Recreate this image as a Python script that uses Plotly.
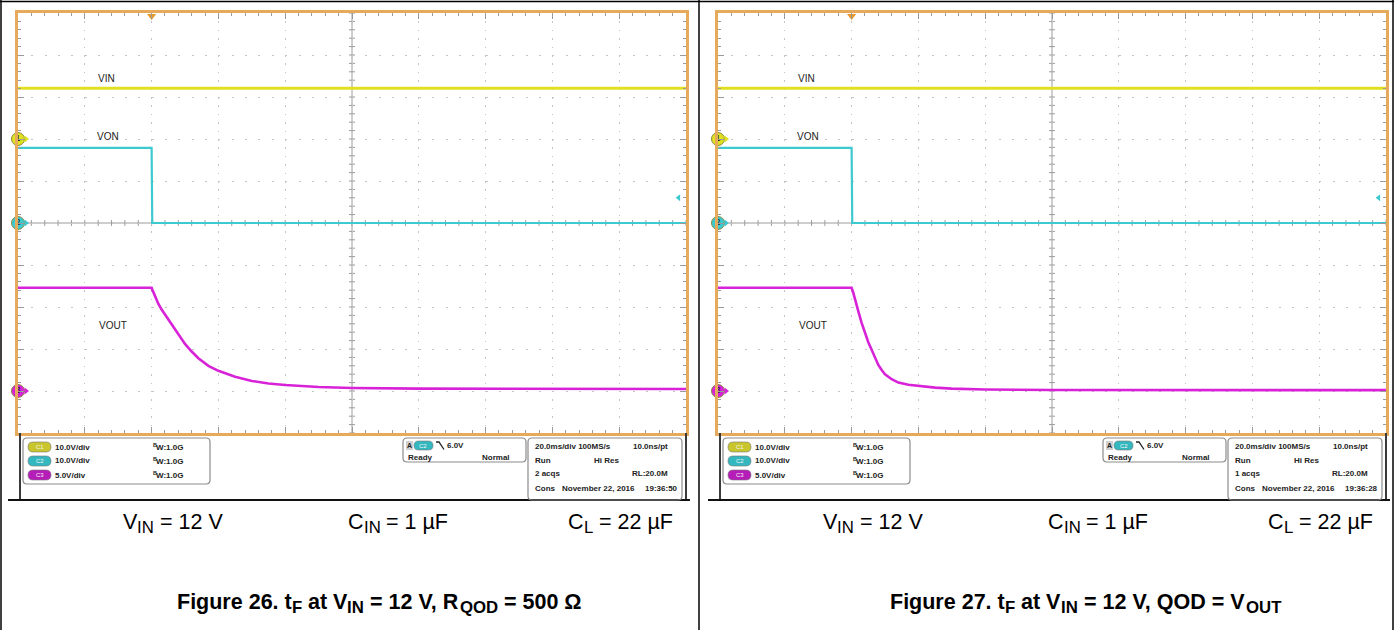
import plotly.graph_objects as go

W, H = 1394, 630

# ---------------- data ----------------
ch_names = ["VIN", "VON", "VOUT"]
ch_scale = [10.0, 10.0, 5.0]          # V/div
ch_offset = [2.0, 0.0, -4.0]          # div (ground marker position)
time_per_div = 20.0                    # ms/div

vin_t = [-40, 160]
vin_v = [12.1, 12.1]

von_t = [-40, 0, 0.2, 160]
von_v = [17.9, 17.9, 0.0, 0.0]

vout26_t = [-40, 0, 0.5, 1, 2, 3, 4, 5, 6, 8, 10, 12, 14, 17, 20, 25, 30, 35, 40, 50, 60, 80, 100, 130, 160]
vout26_v = [12.3, 12.3, 11.8, 11.3, 10.4, 9.7, 9.1, 8.5, 8.0, 6.7, 5.6, 4.7, 3.9, 3.0, 2.4, 1.7, 1.2, 0.9, 0.71, 0.48, 0.36, 0.28, 0.25, 0.24, 0.24]

vout27_t = [-40, 0, 0.5, 1, 2, 3, 4, 5, 6, 7, 8, 9, 10, 12, 14, 17, 20, 25, 30, 40, 60, 100, 160]
vout27_v = [12.3, 12.3, 11.7, 10.9, 9.5, 8.1, 6.9, 5.8, 4.9, 3.9, 3.1, 2.5, 2.0, 1.4, 1.0, 0.75, 0.6, 0.4, 0.28, 0.18, 0.12, 0.1, 0.1]

# caption runs: (text, is_subscript)
cap26 = [("Figure 26. t", 0), ("F", 1), (" at V", 0), ("IN", 1), (" = 12 V, R", 0), ("QOD", 1), (" = 500 Ω", 0)]
cap27 = [("Figure 27. t", 0), ("F", 1), (" at V", 0), ("IN", 1), (" = 12 V, QOD = V", 0), ("OUT", 1)]
cond_runs = [
    [("V", 0), ("IN", 1), (" = 12 V", 0)],
    [("C", 0), ("IN", 1), (" = 1 µF", 0)],
    [("C", 0), ("L", 1), (" = 22 µF", 0)],
]
cond_x = [122, 347, 567]

panels = [
    dict(vout_t=vout26_t, vout_v=vout26_v, acqs="2 acqs", clock="19:36:50", caption=cap26, cap_x=378),
    dict(vout_t=vout27_t, vout_v=vout27_v, acqs="1 acqs", clock="19:36:28", caption=cap27, cap_x=1085),
]
ch_info = ["10.0V/div", "10.0V/div", "5.0V/div"]

# ---------------- style ----------------
COLORS = ["#e0e020", "#3cc9cf", "#d822d8"]
PILL = ["#c9c52c", "#33b8c0", "#b51cb8"]
BORDER = "#e6aa5c"
FONT = "Arial, Liberation Sans, sans-serif"
INFO_SIZE = 8
SUB_RATIO = 0.78

# Arial advance widths (1/1000 em)
REG_W = {" ": 278, "=": 584, "V": 667, "I": 278, "N": 722, "C": 722, "L": 556, "F": 611, "µ": 576}
BOLD_W = {" ": 278, "F": 611, "i": 278, "g": 611, "u": 611, "r": 389, "e": 556, ".": 278, ",": 278,
          "t": 333, "a": 556, "V": 667, "I": 278, "N": 722, "=": 584, "R": 722, "Q": 778, "O": 778,
          "D": 722, "U": 722, "T": 611, "Ω": 768}


def X(px):
    return px / W


def Y(py):
    return 1 - py / H


def to_div(v, ch):
    return [val / ch_scale[ch] + ch_offset[ch] for val in v]


def rrect(x0, y0, x1, y1, r):
    pts = [
        ("M", [(x0 + r, y0)]), ("L", [(x1 - r, y0)]), ("Q", [(x1, y0), (x1, y0 + r)]),
        ("L", [(x1, y1 - r)]), ("Q", [(x1, y1), (x1 - r, y1)]), ("L", [(x0 + r, y1)]),
        ("Q", [(x0, y1), (x0, y1 - r)]), ("L", [(x0, y0 + r)]), ("Q", [(x0, y0), (x0 + r, y0)]),
    ]
    s = ""
    for cmd, ps in pts:
        s += cmd + " ".join(f"{X(a):.6f},{Y(b):.6f}" for a, b in ps) + " "
    return s + "Z"


def label(text, px, py, anchor="left", size=INFO_SIZE, bold=True, color="#222"):
    return dict(text=(f"<b>{text}</b>" if bold else text), x=X(px), y=Y(py),
                xref="paper", yref="paper", xanchor=anchor, yanchor="middle", borderpad=0,
                showarrow=False, font=dict(size=size, color=color, family=FONT))


def width(text, size, bold):
    table = BOLD_W if bold else REG_W
    return sum(table.get(c, 556) for c in text) * size / 1000.0


def run_text(runs, px, py, size, bold, anchor="left", sub_dy=5.0):
    out = []
    sizes = [size * SUB_RATIO if s else size for _, s in runs]
    total = sum(width(t, sz, bold) for (t, _), sz in zip(runs, sizes))
    x = px - (total / 2 if anchor == "center" else 0)
    for (t, s), sz in zip(runs, sizes):
        lead = len(t) - len(t.lstrip(" "))
        xs = x + width(" " * lead, sz, bold)
        out.append(label(t.strip(" "), xs, py + (sub_dy if s else 0), size=sz, bold=bold, color="#000"))
        x += width(t, sz, bold)
    return out


fig = go.Figure()
shapes = []
annotations = []

for i, p in enumerate(panels):
    off = 700 * i
    xa = "xaxis" if i == 0 else f"xaxis{i+1}"
    ya = "yaxis" if i == 0 else f"yaxis{i+1}"
    xr = "x" if i == 0 else f"x{i+1}"
    yr = "y" if i == 0 else f"y{i+1}"
    left, right, top, bot = 18 + off, 686 + off, 13, 433

    fig.layout[xa] = dict(
        domain=[X(left), X(right)], range=[-40, 160], anchor=yr,
        showline=True, linecolor=BORDER, linewidth=3, mirror="ticks",
        ticks="inside", ticklen=6, tickwidth=1, tickcolor="#9a9a9a",
        tick0=-40, dtick=20, showticklabels=False, zeroline=False,
        showgrid=True, gridcolor="#c4c4c4", gridwidth=1, griddash="1.5px,6.9px",
        minor=dict(ticks="inside", ticklen=3, dtick=4, tickcolor="#9a9a9a", showgrid=False),
        fixedrange=True,
    )
    fig.layout[ya] = dict(
        domain=[Y(bot), Y(top)], range=[-5, 5], anchor=xr,
        showline=True, linecolor=BORDER, linewidth=3, mirror="ticks",
        ticks="inside", ticklen=6, tickwidth=1, tickcolor="#9a9a9a",
        tick0=-5, dtick=1, showticklabels=False, zeroline=False,
        showgrid=True, gridcolor="#c4c4c4", gridwidth=1, griddash="2px,11.36px",
        minor=dict(ticks="inside", ticklen=3, dtick=0.2, tickcolor="#9a9a9a", showgrid=False),
        fixedrange=True,
    )

    # center crosshair with ticks
    shapes.append(dict(type="line", xref=xr, yref=yr, x0=-40, x1=160, y0=0, y1=0,
                       line=dict(color="#9c9c9c", width=1), layer="below"))
    shapes.append(dict(type="line", xref=xr, yref=yr, x0=60, x1=60, y0=-5, y1=5,
                       line=dict(color="#9c9c9c", width=1), layer="below"))
    for k in range(51):
        tx = -40 + 4 * k
        shapes.append(dict(type="line", xref=xr, yref=yr, x0=tx, x1=tx, y0=-0.07, y1=0.07,
                           line=dict(color="#9c9c9c", width=1), layer="below"))
        ty = -5 + 0.2 * k
        shapes.append(dict(type="line", xref=xr, yref=yr, x0=59.1, x1=60.9, y0=ty, y1=ty,
                           line=dict(color="#9c9c9c", width=1), layer="below"))

    # traces
    fig.add_trace(go.Scatter(x=vin_t, y=to_div(vin_v, 0), mode="lines", xaxis=xr, yaxis=yr,
                             line=dict(color=COLORS[0], width=3), showlegend=False, hoverinfo="skip"))
    fig.add_trace(go.Scatter(x=von_t, y=to_div(von_v, 1), mode="lines", xaxis=xr, yaxis=yr,
                             line=dict(color=COLORS[1], width=2.2), showlegend=False, hoverinfo="skip"))
    fig.add_trace(go.Scatter(x=p["vout_t"], y=to_div(p["vout_v"], 2), mode="lines", xaxis=xr, yaxis=yr,
                             line=dict(color=COLORS[2], width=2.6),
                             showlegend=False, hoverinfo="skip"))

    # channel ground markers
    fig.add_trace(go.Scatter(x=[-40] * 3, y=ch_offset, mode="markers+text", xaxis=xr, yaxis=yr,
                             text=["1", "2", "3"], textposition="middle center",
                             textfont=dict(size=9, color="#222", family=FONT),
                             marker=dict(size=13, color=COLORS, line=dict(color="#8a8a40", width=1)),
                             cliponaxis=False, showlegend=False, hoverinfo="skip"))
    fig.add_trace(go.Scatter(x=[-37.6] * 3, y=ch_offset, mode="markers", xaxis=xr, yaxis=yr,
                             marker=dict(size=6, color=COLORS, symbol="triangle-right"),
                             cliponaxis=False, showlegend=False, hoverinfo="skip"))
    # trigger level and trigger position markers
    fig.add_trace(go.Scatter(x=[157.8], y=[6.0 / ch_scale[1] + ch_offset[1]], mode="markers",
                             xaxis=xr, yaxis=yr, marker=dict(size=6, color=COLORS[1], symbol="triangle-left"),
                             cliponaxis=False, showlegend=False, hoverinfo="skip"))
    fig.add_trace(go.Scatter(x=[0], y=[4.93], mode="markers", xaxis=xr, yaxis=yr,
                             marker=dict(size=8, color="#e89a2a", symbol="triangle-down"),
                             cliponaxis=False, showlegend=False, hoverinfo="skip"))

    # channel labels on screen
    for name, lx, ly in [("VIN", -13.4, 3.45), ("VON", -13.0, 2.05), ("VOUT", -11.6, -2.43)]:
        annotations.append(dict(text=name, x=lx, y=ly, xref=xr, yref=yr, showarrow=False,
                                font=dict(size=10, color="#222", family=FONT)))

    # ---------- info area frame ----------
    fl = dict(color="#3a3a3a", width=2)
    shapes.append(dict(type="line", xref="paper", yref="paper", x0=X(20 + off), x1=X(20 + off),
                       y0=Y(433), y1=Y(500), line=fl))
    shapes.append(dict(type="line", xref="paper", yref="paper", x0=X(686 + off), x1=X(686 + off),
                       y0=Y(433), y1=Y(500), line=fl))
    shapes.append(dict(type="line", xref="paper", yref="paper", x0=X(8 + off), x1=X(690 + off),
                       y0=Y(500), y1=Y(500), line=dict(color="#111", width=2)))

    box = dict(color="#8c8c8c", width=1.2)
    shapes.append(dict(type="path", xref="paper", yref="paper", path=rrect(23 + off, 438, 210 + off, 484, 4), line=box))
    shapes.append(dict(type="path", xref="paper", yref="paper", path=rrect(403 + off, 438, 526 + off, 462, 4), line=box))
    shapes.append(dict(type="path", xref="paper", yref="paper", path=rrect(528 + off, 438, 682 + off, 500, 4), line=box))

    for r in range(3):
        yy = 447 + 14 * r
        shapes.append(dict(type="path", xref="paper", yref="paper",
                           path=rrect(28 + off, yy - 5, 51 + off, yy + 5, 5),
                           fillcolor=PILL[r], line=dict(color="#777", width=0.6)))
        annotations.append(label(f"C{r+1}", 39.5 + off, yy, anchor="center", size=6, bold=False, color="#f4f4f4"))
        annotations.append(label(ch_info[r], 54 + off, yy))
        annotations.append(label("B", 151.5 + off, yy - 2.5, size=5.5))
        annotations.append(label("W:1.0G", 154.5 + off, yy + 0.5))

    # trigger box
    shapes.append(dict(type="rect", xref="paper", yref="paper", x0=X(406 + off), x1=X(413 + off),
                       y0=Y(450), y1=Y(441), fillcolor="#d0d0d0", line=dict(width=0)))
    annotations.append(label("A", 409.5 + off, 445.5, anchor="center", size=7))
    shapes.append(dict(type="path", xref="paper", yref="paper",
                       path=rrect(414 + off, 441, 433 + off, 450, 4.5),
                       fillcolor=PILL[1], line=dict(color="#777", width=0.6)))
    annotations.append(label("C2", 423.5 + off, 445.5, anchor="center", size=6, bold=False, color="#f4f4f4"))
    shapes.append(dict(type="path", xref="paper", yref="paper",
                       path=f"M{X(436+off)},{Y(442)} L{X(439+off)},{Y(442)} L{X(444+off)},{Y(449.5)}",
                       line=dict(color="#222", width=1.3)))
    annotations.append(label("6.0V", 446 + off, 445.5))
    annotations.append(label("Ready", 407 + off, 457))
    annotations.append(label("Normal", 511 + off, 457, anchor="right"))

    # acquisition box
    rows = [
        (446, "20.0ms/div 100MS/s", 534, "left"), (446, "10.0ns/pt", 669, "right"),
        (460, "Run", 534, "left"), (460, "Hi Res", 593, "left"),
        (473, p["acqs"], 534, "left"), (473, "RL:20.0M", 669, "right"),
        (488, "Cons", 534, "left"), (488, "November 22, 2016", 561, "left"),
        (488, p["clock"], 679, "right"),
    ]
    for yy, txt, xx, anc in rows:
        annotations.append(label(txt, xx + off, yy, anchor=anc))

    # captions
    for runs, xx in zip(cond_runs, cond_x):
        annotations.extend(run_text(runs, xx + off, 522, 21.5, False, sub_dy=5))
    annotations.extend(run_text(p["caption"], p["cap_x"], 601.5, 21.5, True, anchor="center", sub_dy=5.5))

# outer frame
for x0, y0, x1, y1 in [(0, 1.5, W, 1.5), (1, 0, 1, H), (699, 0, 699, H), (W - 1, 0, W - 1, H)]:
    shapes.append(dict(type="line", xref="paper", yref="paper", x0=X(x0), x1=X(x1), y0=Y(y0), y1=Y(y1),
                       line=dict(color="#000", width=1.5)))

fig.update_layout(
    width=W, height=H, margin=dict(l=0, r=0, t=0, b=0),
    paper_bgcolor="white", plot_bgcolor="white",
    shapes=shapes, annotations=annotations, showlegend=False,
    font=dict(family=FONT),
)

fig.write_html("out.html", config=dict(displayModeBar=False),
               post_script="document.body.style.margin='0';document.body.style.overflow='hidden';")
